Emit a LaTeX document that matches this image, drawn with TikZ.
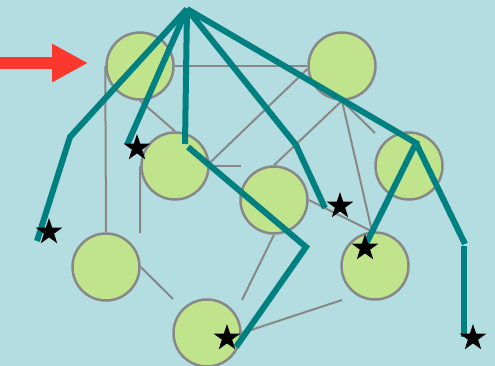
\documentclass[tikz,border=0pt]{standalone}
\usetikzlibrary{shapes.geometric,arrows.meta}
\definecolor{bgblue}{RGB}{179,221,224}
\definecolor{leafgreen}{RGB}{192,228,140}
\definecolor{edgegray}{RGB}{136,136,136}
\definecolor{treeteal}{RGB}{0,128,128}
\definecolor{arrowred}{RGB}{250,56,46}
\begin{document}
\begin{tikzpicture}[x=1pt, y=-1pt,
    site/.style={circle, draw=edgegray, line width=2.5pt, fill=leafgreen, minimum size=67pt, inner sep=0pt},
    link/.style={draw=edgegray, line width=2pt},
    branch/.style={draw=treeteal, line width=6pt},
    hit/.style={star, star points=5, star point ratio=2.6, fill=black, minimum size=28pt, inner sep=0pt}]
            \fill[bgblue] (0,0) rectangle (495,366);
            \useasboundingbox (0,0) rectangle (495,366);
            \draw[arrowred, line width=12pt, -{Triangle[length=36pt,width=36pt]}] (0,63) -- (88,63);
            \node[site] (A) at (140,66) {};
            \node[site] (B) at (342,66) {};
            \node[site] (C) at (175,166) {};
            \node[site] (D) at (274,200) {};
            \node[site] (E) at (409,166) {};
            \node[site] (F) at (106,267) {};
            \node[site] (G) at (375,266) {};
            \node[site] (H) at (207,333) {};
            \coordinate (c1) at (140,233);
            \coordinate (c2) at (241,166);
            \coordinate (b1) at (375,133);
            \coordinate (d1) at (242,300);
            \coordinate (f1) at (173,299);
            \coordinate (h1) at (342,300);
            \draw[link] (A.east) -- (B.west);
            \draw[link] (A.west) -- (F.north);
            \draw[link] (A.south) -- (C.north);
            \draw[link] (C.west) -- (c1);
            \draw[link] (C.east) -- (c2);
            \draw[link] (C.5) -- (B.185);
            \draw[link] (D.north) -- (B.south);
            \draw[link] (B.south) -- (b1);
            \draw[link] (B.south) -- (G.95);
            \draw[link] (D.east) -- (G.95);
            \draw[link] (D.south) -- (d1);
            \draw[link] (F.east) -- (f1);
            \draw[link] (H.east) -- (h1);
            \coordinate (root) at (187,9);
            \coordinate (t1) at (70,137);
            \coordinate (t2) at (37,241);
            \coordinate (t3) at (127,145);
            \coordinate (t4) at (185,144);
            \coordinate (t5) at (188,147);
            \coordinate (t6) at (306,247);
            \coordinate (t7) at (236,347);
            \coordinate (t8) at (296,145);
            \coordinate (t9) at (325,208);
            \coordinate (t10) at (416,143);
            \coordinate (t11) at (363,250);
            \coordinate (t12) at (465,244);
            \coordinate (t13) at (464,246);
            \coordinate (t14) at (464,337);
            \draw[branch] (root) -- (t1) -- (t2);
            \draw[branch] (root) -- (t3);
            \draw[branch] (root) -- (t4);
            \draw[branch] (t5) -- (t6) -- (t7);
            \draw[branch] (root) -- (t8) -- (t9);
            \draw[branch] (root) -- (t10) -- (t11);
            \draw[branch] (t10) -- (t12);
            \draw[branch] (t13) -- (t14);
            \node[hit] (s1) at (49,232) {};
            \node[hit] (s2) at (137,148) {};
            \node[hit] (s3) at (227,338) {};
            \node[hit] (s4) at (340,206) {};
            \node[hit] (s5) at (365,248) {};
            \node[hit] (s6) at (473,338) {};
\end{tikzpicture}
\end{document}
